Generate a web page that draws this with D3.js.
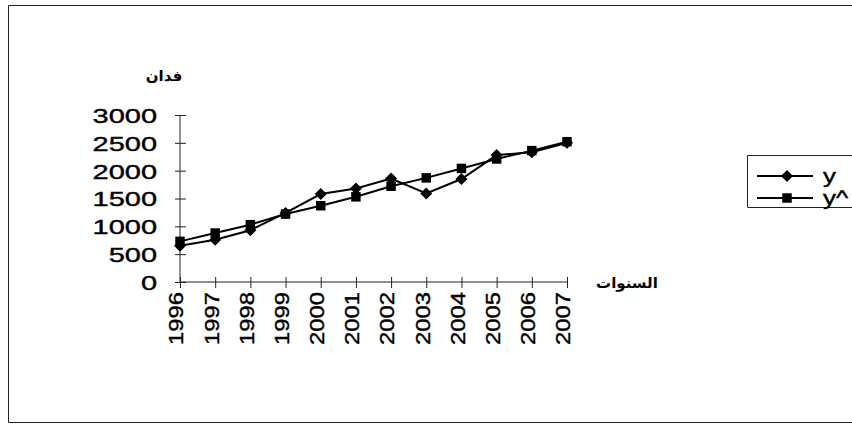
<!DOCTYPE html>
<html>
<head>
<meta charset="utf-8">
<script src="https://cdn.jsdelivr.net/npm/d3@7"></script>
<style>
  html, body { margin: 0; padding: 0; background: #fff; }
  svg { display: block; }
</style>
</head>
<body>
<svg id="chart" width="852" height="425"></svg>
<script>
// Cultivated area per year: observed (y) and fitted trend (y^)
const years = ["1996","1997","1998","1999","2000","2001","2002","2003","2004","2005","2006","2007"];
const observed = [650, 760, 930, 1240, 1580, 1680, 1860, 1590, 1850, 2280, 2330, 2500];
const fitted   = [730, 880, 1030, 1220, 1370, 1530, 1720, 1870, 2040, 2210, 2360, 2520];
const yTicks = [0, 500, 1000, 1500, 2000, 2500, 3000];
const seriesNames = ["y", "y^"];
const yTitle = "فدان";
const xTitle = "السنوات";

const svg = d3.select("#chart");
const ink = "#000";
const latin = "'Liberation Sans', Arial, sans-serif";

// outer frame (right edge falls outside the page)
svg.append("path")
  .attr("d", "M852,5.5 H8.5 V422.5 H852")
  .attr("fill", "none").attr("stroke", "#222").attr("stroke-width", 1);

const x = d3.scalePoint().domain(years).range([180, 567]);
const y = d3.scaleLinear().domain([0, 3000]).range([282, 115]);

// value axis
const yAxis = svg.append("g").attr("transform", "translate(180,0)")
  .call(d3.axisLeft(y).tickValues(yTicks).tickSize(6).tickFormat(d3.format("d")));
yAxis.select(".domain").attr("stroke", "#222").attr("d", `M0,${y(0)}V${y(3000)}`);
yAxis.selectAll(".tick line").attr("x1", -5).attr("x2", 6).attr("stroke", "#222");
yAxis.selectAll(".tick text")
  .attr("x", null).attr("dy", null)
  .attr("text-anchor", "end")
  .attr("dominant-baseline", "central")
  .attr("transform", "translate(-23,0) scale(1.38,1)")
  .attr("font-family", latin)
  .attr("font-size", 21).attr("fill", ink)
  .attr("stroke", ink).attr("stroke-width", 0.4);

// category axis
const xAxis = svg.append("g").attr("transform", `translate(0,${y(0)})`)
  .call(d3.axisBottom(x).tickSize(6));
xAxis.select(".domain").attr("stroke", "#222").attr("d", `M${x(years[0])},0H${x(years[years.length-1])}`);
xAxis.selectAll(".tick line").attr("y1", -5).attr("y2", 6).attr("stroke", "#222");
xAxis.selectAll(".tick text")
  .attr("y", null).attr("dy", null)
  .attr("text-anchor", "end")
  .attr("dominant-baseline", "central")
  .attr("transform", "translate(-4,10) rotate(-90) scale(1.19,1)")
  .attr("font-family", latin)
  .attr("font-size", 20).attr("fill", ink)
  .attr("stroke", ink).attr("stroke-width", 0.4);

// axis titles
svg.append("text").attr("x", 164).attr("y", 81).attr("text-anchor", "middle")
  .attr("font-family", "'DejaVu Sans', sans-serif").attr("font-weight", "bold")
  .attr("font-size", 15).text(yTitle);
svg.append("text").attr("x", 627).attr("y", 288).attr("text-anchor", "middle")
  .attr("font-family", "'DejaVu Sans', sans-serif").attr("font-weight", "bold")
  .attr("font-size", 15).text(xTitle);

// series
const series = [
  { name: seriesNames[0], values: observed, symbol: d3.symbol().type(d3.symbolSquare).size(72), rot: 45 },
  { name: seriesNames[1], values: fitted,   symbol: d3.symbol().type(d3.symbolSquare).size(90), rot: 0 }
];
const line = d3.line().x((d, i) => x(years[i])).y(d => y(d));

series.forEach(s => {
  svg.append("path").datum(s.values).attr("d", line)
    .attr("fill", "none").attr("stroke", ink).attr("stroke-width", 2);
});
series.forEach(s => {
  svg.append("g").selectAll("path").data(s.values).join("path")
    .attr("d", s.symbol())
    .attr("transform", (d, i) => `translate(${x(years[i])},${y(d)}) rotate(${s.rot})`)
    .attr("fill", ink);
});

// legend
const legend = svg.append("g").attr("transform", "translate(747,155)");
legend.append("path").attr("d", "M110,0.5 H0.5 V52").attr("fill", "none")
  .attr("stroke", "#222").attr("stroke-width", 1);
legend.append("path").attr("d", "M0.5,52.5 H110").attr("fill", "none")
  .attr("stroke", "#222").attr("stroke-width", 1);
series.forEach((s, i) => {
  const g = legend.append("g").attr("transform", `translate(0,${21 + i * 22})`);
  g.append("line").attr("x1", 10).attr("x2", 66).attr("stroke", ink).attr("stroke-width", 2);
  g.append("path").attr("d", s.symbol()).attr("transform", `translate(40,0) rotate(${s.rot})`).attr("fill", ink);
  g.append("text").attr("dominant-baseline", "central")
    .attr("transform", "translate(76,0) scale(1.3,1)")
    .attr("font-family", latin)
    .attr("font-size", 20)
    .attr("stroke", ink).attr("stroke-width", 0.4).text(s.name);
});
</script>
</body>
</html>
